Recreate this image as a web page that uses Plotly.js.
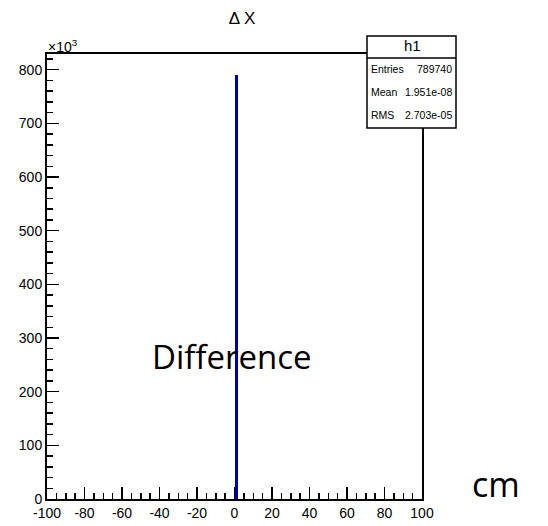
<!DOCTYPE html>
<html>
<head>
<meta charset="utf-8">
<script src="https://cdn.plot.ly/plotly-3.0.1.min.js"></script>
<style>html,body{margin:0;padding:0;background:#fff;}#plot{width:548px;height:526px;}</style>
</head>
<body>
<div id="plot"></div>
<script>
// Histogram data (bin centers, bin widths, counts)
const binCenters = [1];
const binWidths = [2];
const counts = [789740];

// Axis ticks
const xTickVals = [-100, -80, -60, -40, -20, 0, 20, 40, 60, 80, 100];
const xTickText = ["-100", "-80", "-60", "-40", "-20", "0", "20", "40", "60", "80", "100"];
const yTickVals = [0, 100000, 200000, 300000, 400000, 500000, 600000, 700000, 800000];
const yTickText = ["0", "100", "200", "300", "400", "500", "600", "700", "800"];

// Stats box
const statsName = "h1";
const statsLabels = ["Entries", "Mean", "RMS"];
const statsValues = ["789740", "1.951e-08", "2.703e-05"];

const W = 548, H = 526;
const L = 47, R = 422, T = 54, B = 499;
const px = x => (x - L) / (R - L);
const py = y => (B - y) / (B - T);

const font = "Liberation Sans, Arial, Helvetica, sans-serif";
const bigFont = "Open Sans, Noto Sans, sans-serif";

const trace = {
  type: "bar",
  x: binCenters,
  y: counts,
  width: binWidths,
  marker: {color: "rgb(0,0,160)", line: {width: 0}},
  hoverinfo: "skip"
};

const annotations = [
  {xref: "paper", yref: "paper", x: px(46), y: py(54), xanchor: "left", yanchor: "bottom", yshift: -3,
   text: "×10<sup>3</sup>", showarrow: false, font: {family: font, size: 14, color: "#000"}},
  {xref: "paper", yref: "paper", x: px(412), y: py(46), xanchor: "center", yanchor: "middle",
   text: statsName, showarrow: false, font: {family: font, size: 15, color: "#000"}},
  {xref: "paper", yref: "paper", x: px(232), y: py(356), xanchor: "center", yanchor: "middle",
   text: "Difference", showarrow: false, font: {family: bigFont, size: 33, color: "#000"}},
  {xref: "paper", yref: "paper", x: px(496), y: py(484), xanchor: "center", yanchor: "middle",
   text: "cm", showarrow: false, font: {family: bigFont, size: 34, color: "#000"}}
];
const rowY = [69, 92, 115];
statsLabels.forEach((lab, i) => {
  annotations.push({xref: "paper", yref: "paper", x: px(369), y: py(rowY[i]), xanchor: "left", yanchor: "middle",
    text: lab, showarrow: false, font: {family: font, size: 10.5, color: "#000"}});
  annotations.push({xref: "paper", yref: "paper", x: px(454), y: py(rowY[i]), xanchor: "right", yanchor: "middle",
    text: statsValues[i], showarrow: false, font: {family: font, size: 10.5, color: "#000"}});
});

const shapes = [
  {type: "rect", xref: "paper", yref: "paper", x0: px(367), x1: px(456), y0: py(128), y1: py(36),
   line: {color: "#000", width: 1.5}, fillcolor: "#fff", layer: "above"},
  {type: "line", xref: "paper", yref: "paper", x0: px(367), x1: px(456), y0: py(58), y1: py(58),
   line: {color: "#000", width: 1.5}, layer: "above"}
];

const layout = {
  width: W, height: H,
  margin: {l: L, r: W - R, t: T, b: H - B, pad: 0},
  paper_bgcolor: "#fff", plot_bgcolor: "#fff",
  showlegend: false,
  bargap: 0,
  title: {text: "Δ X", x: 242 / W, xanchor: "center", y: 1 - 18 / H, yanchor: "middle",
          font: {family: font, size: 17, color: "#000"}},
  xaxis: {
    range: [-100, 100], showgrid: false, zeroline: false,
    showline: true, linecolor: "#000", linewidth: 2, mirror: true,
    ticks: "inside", ticklen: 12, tickwidth: 1.5, tickcolor: "#000",
    tickvals: xTickVals, ticktext: xTickText,
    tickfont: {family: font, size: 14, color: "#000"},
    minor: {ticks: "inside", dtick: 5, ticklen: 6, tickwidth: 1.5, tickcolor: "#000", showgrid: false},
    fixedrange: true
  },
  yaxis: {
    range: [0, 829227], showgrid: false, zeroline: false,
    showline: true, linecolor: "#000", linewidth: 2, mirror: true,
    ticks: "inside", ticklen: 12, tickwidth: 1.5, tickcolor: "#000",
    tickvals: yTickVals, ticktext: yTickText, ticklabelstandoff: 0,
    tickfont: {family: font, size: 14, color: "#000"},
    minor: {ticks: "inside", dtick: 20000, ticklen: 6, tickwidth: 1.5, tickcolor: "#000", showgrid: false},
    fixedrange: true
  },
  annotations: annotations,
  shapes: shapes
};

Plotly.newPlot("plot", [trace], layout, {staticPlot: true, displayModeBar: false});
</script>
</body>
</html>
